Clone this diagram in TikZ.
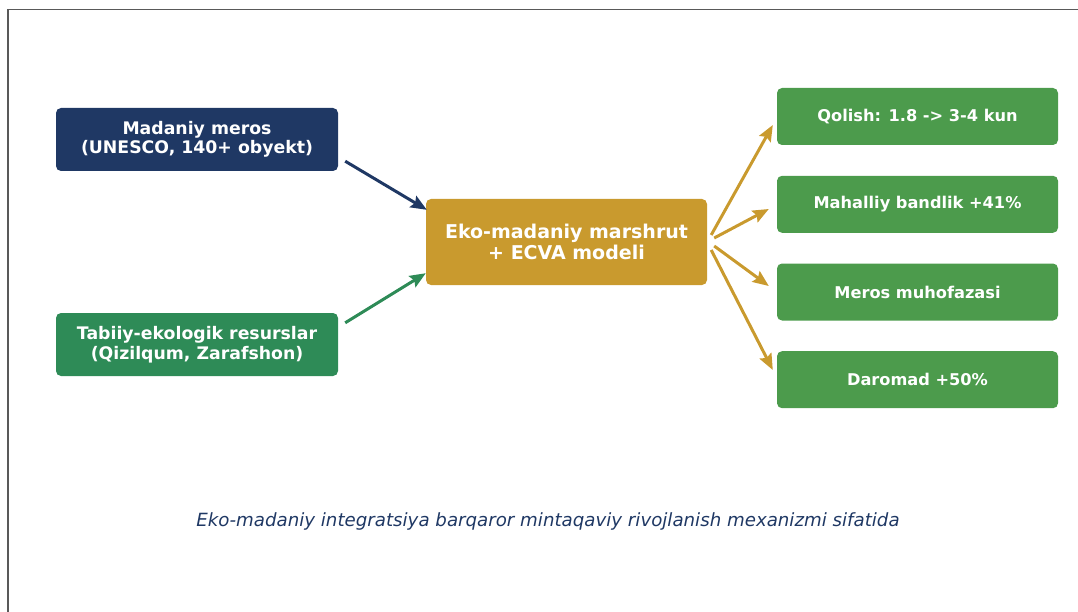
\documentclass[tikz,border=0pt]{standalone}
\usepackage{fontspec}
\setmainfont{DejaVu Sans}
\usepackage{tikz}
\usetikzlibrary{arrows.meta,positioning}

\definecolor{navy}{HTML}{1F3864}
\definecolor{seagreen}{HTML}{2E8B57}
\definecolor{gold}{HTML}{C99A2E}
\definecolor{leaf}{HTML}{4C9B4C}

\tikzset{
	box/.style={rounded corners=5, text=white, align=center, inner sep=0,
		font=\bfseries\fontsize{17.3}{19.5}\selectfont,
		minimum width=282, minimum height=63},
	outbox/.style={box, fill=leaf, minimum width=281, minimum height=57,
		font=\bfseries\fontsize{16.2}{19}\selectfont},
	link/.style={line width=3, -{Stealth[length=16,width=13,inset=2.5]}}
}

\begin{document}
\begin{tikzpicture}[x=1pt, y=-1pt]
	\useasboundingbox (0,0) rectangle (1078,612);
	\draw [gray!70!black, line width=1.2] (8,612) -- (8,9.5) -- (1078,9.5);

	% inputs
	\node [box, fill=navy] (meros) at (197,139.5) {Madaniy meros\\(UNESCO, 140+ obyekt)};
	\node [box, fill=seagreen] (tabiiy) at (197,344.5) {Tabiiy-ekologik resurslar\\(Qizilqum, Zarafshon)};

	% model
	\node [box, fill=gold, minimum width=281, minimum height=86,
		font=\bfseries\fontsize{19}{20.5}\selectfont] (eko) at (566.5,242) {Eko-madaniy marshrut\\+ ECVA modeli};

	% results
	\node [outbox] (qolish) at (917.5,116.5) {Qolish: 1.8 -> 3-4 kun};
	\node [outbox] (bandlik) at (917.5,204.3) {Mahalliy bandlik +41\%};
	\node [outbox] (muhofaza) at (917.5,292) {Meros muhofazasi};
	\node [outbox] (daromad) at (917.5,379.7) {Daromad +50\%};

	\draw [link, navy] ([shift={(7,-10)}]meros.south east) -- ([shift={(1,11)}]eko.north west);
	\draw [link, seagreen] ([shift={(7,10)}]tabiiy.north east) -- ([shift={(0,-12)}]eko.south west);

	\draw [link, gold] ([shift={(4,-7)}]eko.east) -- ([shift={(-4,8.5)}]qolish.west);
	\draw [link, gold] ([shift={(7,-4)}]eko.east) -- ([shift={(-8,4.7)}]bandlik.west);
	\draw [link, gold] ([shift={(7,4)}]eko.east) -- ([shift={(-8,-6)}]muhofaza.west);
	\draw [link, gold] ([shift={(4,8)}]eko.east) -- ([shift={(-4,-9.7)}]daromad.west);

	\node [text=navy, font=\itshape\fontsize{18.2}{21}\selectfont] (caption) at (548,521)
		{Eko-madaniy integratsiya barqaror mintaqaviy rivojlanish mexanizmi sifatida};
\end{tikzpicture}
\end{document}
